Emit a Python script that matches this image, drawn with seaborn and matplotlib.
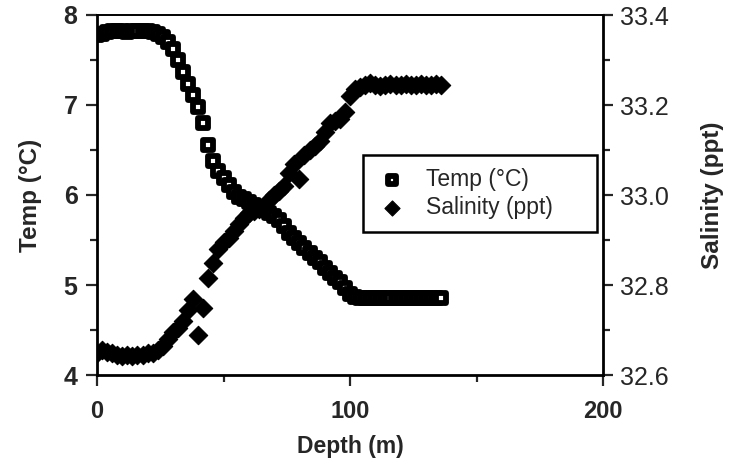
import matplotlib
matplotlib.use("Agg")
import matplotlib.pyplot as plt
import seaborn as sns
import pandas as pd
from matplotlib.ticker import MultipleLocator

# ---- data ----
depth = [0, 2, 4, 6, 8, 10, 12, 14, 16, 18,
         20, 22, 24, 26, 28, 30, 32, 34, 36, 38,
         40, 42, 44, 46, 48, 50, 52, 54, 56, 58,
         60, 62, 64, 66, 68, 70, 72, 74, 76, 78,
         80, 82, 84, 86, 88, 90, 92, 94, 96, 98,
         100, 102, 104, 106, 108, 110, 112, 114, 116, 118,
         120, 122, 124, 126, 128, 130, 132, 134, 136]

temp = [7.78, 7.79, 7.81, 7.82, 7.82, 7.82, 7.81, 7.82, 7.82, 7.82,
        7.82, 7.81, 7.79, 7.75, 7.70, 7.62, 7.50, 7.37, 7.23, 7.11,
        6.98, 6.80, 6.55, 6.38, 6.27, 6.19, 6.11, 6.03, 5.98, 5.95,
        5.92, 5.89, 5.86, 5.83, 5.80, 5.77, 5.72, 5.65, 5.58, 5.52,
        5.47, 5.41, 5.35, 5.30, 5.25, 5.19, 5.13, 5.08, 5.03, 4.97,
        4.90, 4.87, 4.85, 4.85, 4.86, 4.85, 4.85, 4.85, 4.86, 4.85,
        4.85, 4.85, 4.85, 4.86, 4.85, 4.85, 4.85, 4.85, 4.86]

salinity = [32.650, 32.655, 32.652, 32.648, 32.645, 32.642, 32.645, 32.643, 32.645, 32.645,
            32.648, 32.650, 32.655, 32.665, 32.680, 32.695, 32.705, 32.720, 32.745, 32.770,
            32.690, 32.750, 32.815, 32.850, 32.880, 32.895, 32.905, 32.920, 32.935, 32.950,
            32.960, 32.965, 32.970, 32.975, 32.990, 33.000, 33.010, 33.020, 33.050, 33.070,
            33.035, 33.090, 33.100, 33.110, 33.120, 33.140, 33.160, 33.165, 33.170, 33.185,
            33.220, 33.235, 33.240, 33.245, 33.248, 33.245, 33.243, 33.245, 33.247, 33.245,
            33.244, 33.246, 33.245, 33.245, 33.247, 33.245, 33.244, 33.246, 33.245]

depth_ticks = [0, 100, 200]
depth_labels = ["0", "100", "200"]
temp_ticks = [4, 5, 6, 7, 8]
temp_labels = ["4", "5", "6", "7", "8"]
sal_ticks = [32.6, 32.8, 33.0, 33.2, 33.4]
sal_labels = ["32.6", "32.8", "33.0", "33.2", "33.4"]

df = pd.DataFrame({"depth": depth, "temp": temp, "salinity": salinity})

# ---- style ----
sns.set_style("ticks")
plt.rcParams["font.family"] = ["Liberation Sans", "DejaVu Sans"]

W, H = 738, 461
fig = plt.figure(figsize=(W / 100, H / 100), dpi=100)
ax = fig.add_axes([97 / W, 1 - 375 / H, 506 / W, 360 / H])
ax2 = ax.twinx()

sns.scatterplot(data=df, x="depth", y="temp", ax=ax, marker="s", s=52,
                color="white", edgecolor="black", linewidth=4.2,
                label="Temp (°C)", legend=False, zorder=3)
sns.scatterplot(data=df, x="depth", y="salinity", ax=ax2, marker="D", s=88,
                color="black", edgecolor="black", linewidth=0.8,
                label="Salinity (ppt)", legend=False, zorder=3)

# ---- axes limits / ticks ----
ax.set_xlim(0, 200)
ax.set_ylim(4, 8)
ax2.set_ylim(32.6, 33.4)

ax.set_xticks(depth_ticks)
ax.set_xticklabels(depth_labels, fontweight="bold", fontsize=17)
ax.xaxis.set_minor_locator(MultipleLocator(50))
ax.set_yticks(temp_ticks)
ax.set_yticklabels(temp_labels, fontweight="bold", fontsize=18)
ax.yaxis.set_minor_locator(MultipleLocator(0.5))
ax2.set_yticks(sal_ticks)
ax2.set_yticklabels(sal_labels, fontsize=18)
ax2.yaxis.set_minor_locator(MultipleLocator(0.1))

ax.tick_params(axis="x", which="major", direction="out", length=8, width=1.6, pad=10)
ax.tick_params(axis="x", which="minor", direction="out", length=5, width=1.6)
ax.tick_params(axis="y", which="major", direction="out", length=8, width=1.6, pad=6)
ax.tick_params(axis="y", which="minor", direction="out", length=5, width=1.6)
ax2.tick_params(axis="y", which="major", direction="out", length=7.5, width=1.6, pad=4.5)
ax2.tick_params(axis="y", which="minor", direction="out", length=5, width=1.6)

for side in ["left", "bottom", "top"]:
    ax.spines[side].set_linewidth(2.0)
    ax.spines[side].set_color("black")
ax.spines["top"].set_linewidth(1.4)
ax.spines["right"].set_visible(False)
for side in ["left", "bottom", "top"]:
    ax2.spines[side].set_visible(False)
ax2.spines["right"].set_linewidth(2.0)
ax2.spines["right"].set_color("black")

# ---- labels ----
ax.set_xlabel("Depth (m)", fontsize=16.5, fontweight="bold", va="center")
ax.xaxis.set_label_coords(0.5, (375 - 446) / 360)
ax.set_ylabel("Temp (°C)", fontsize=17.5, fontweight="bold", va="center")
ax.yaxis.set_label_coords((31 - 97) / 506, 0.5)
ax2.set_ylabel("Salinity (ppt)", fontsize=17.5, fontweight="bold", va="center",
               rotation=90)
ax2.yaxis.set_label_coords((713 - 97) / 506, 0.5)

# ---- legend ----
h1, l1 = ax.get_legend_handles_labels()
h2, l2 = ax2.get_legend_handles_labels()
leg = ax2.legend(h1 + h2, l1 + l2, loc="upper left",
                 bbox_to_anchor=((363 - 97) / 506, (375 - 238) / 360, 234 / 506, 83 / 360),
                 mode="expand", frameon=True, fancybox=False, framealpha=1,
                 edgecolor="black", fontsize=16.5, borderpad=0.55, labelspacing=0.25,
                 handlelength=1.4, handletextpad=0.8, borderaxespad=0,
                 markerscale=0.82)
leg.get_frame().set_linewidth(1.8)

fig.savefig("out.png", dpi=100)
